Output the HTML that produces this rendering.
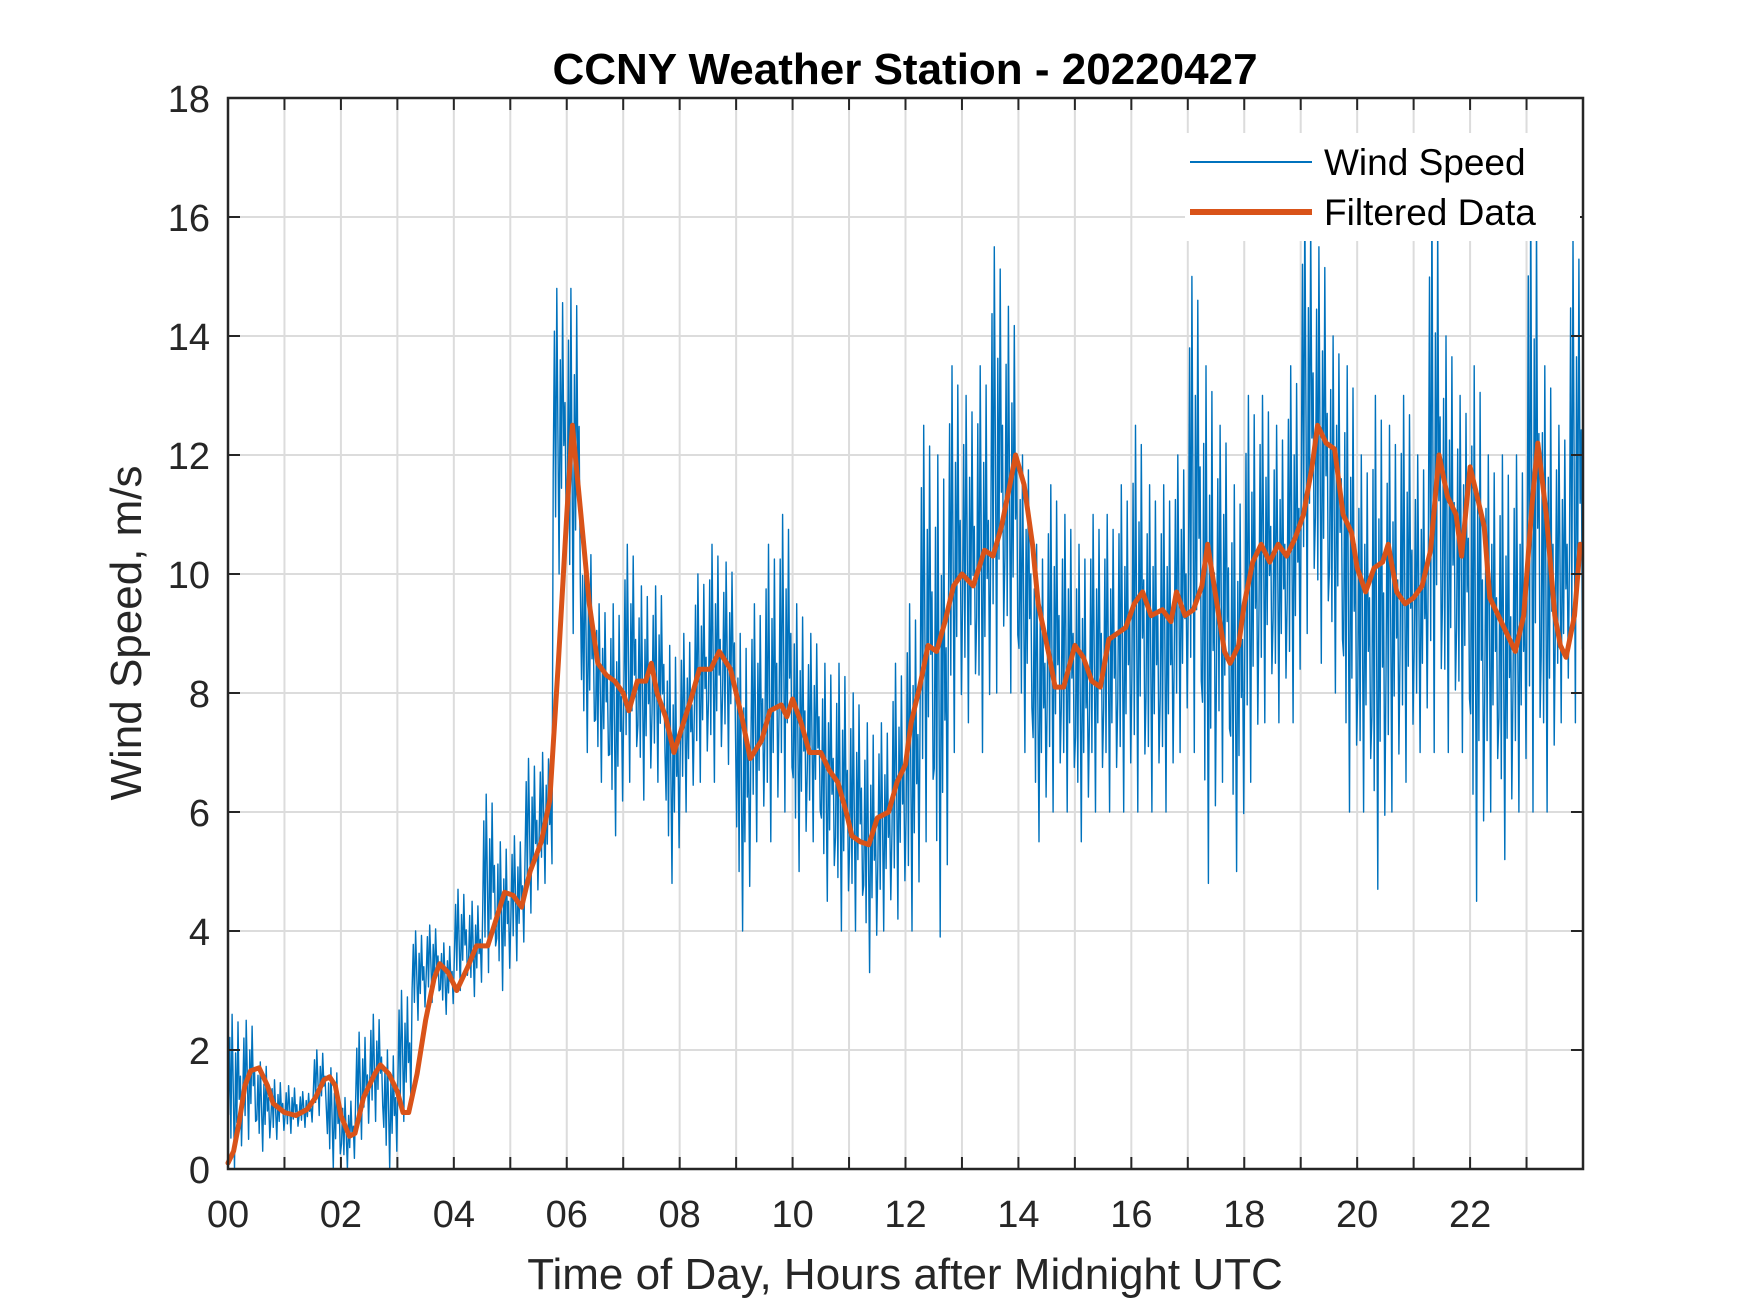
<!DOCTYPE html>
<html><head><meta charset="utf-8"><style>
body{margin:0;background:#fff}
svg{display:block;font-family:"Liberation Sans",Arial,sans-serif}
</style></head><body>
<svg id="chart" width="1750" height="1313" viewBox="0 0 1750 1313" xmlns="http://www.w3.org/2000/svg">
<rect width="1750" height="1313" fill="#fff"/>
<g id="grid"></g>
<g id="series"></g>
<g id="axes"></g>
<text x="905" y="84" text-anchor="middle" font-size="44" font-weight="bold" fill="#000">CCNY Weather Station - 20220427</text>
<text transform="translate(141,633) rotate(-90)" text-anchor="middle" font-size="44" fill="#262626">Wind Speed, m/s</text>
<text x="905" y="1289" text-anchor="middle" font-size="44" fill="#262626">Time of Day, Hours after Midnight UTC</text>
<g id="legend">
<rect x="1185" y="133" width="395" height="108" fill="#fff"/>
<line x1="1190" y1="162" x2="1312" y2="162" stroke="#0072BD" stroke-width="2"/>
<text x="1324" y="175" font-size="37" fill="#000">Wind Speed</text>
<line x1="1190" y1="212" x2="1312" y2="212" stroke="#D95319" stroke-width="6"/>
<text x="1324" y="225" font-size="37" fill="#000">Filtered Data</text>
</g>
</svg>
<script>
const xTickLabels=["00","02","04","06","08","10","12","14","16","18","20","22"];
const yTickLabels=[0,2,4,6,8,10,12,14,16,18];
// wind speed per 0.25h bin: low and high envelope
const windLow=[0,0.5,0.3,0.5,0.6,0.7,0.9,0,0,0.5,0.8,0,0.8,2.5,2.8,2.6,3.0,2.9,3.3,3.0,3.5,4.3,4.8,10,9,7,6.5,5.6,6.5,6.2,6.5,4.8,6.0,6.5,6.5,6.8,4.0,5.5,5.5,6,5,5.5,4.5,4.0,4.0,3.3,4.0,4.2,4.0,5.5,3.9,7,7.5,7,8,8,7,5.5,6,6,5.5,6,6,6,6,6,6,7,7,4.8,6.5,5,6.5,7.5,7.5,7.5,9,8.5,8,6,6,4.7,6,6.5,7,7,7,7,4.5,6,5.2,6,6,6,7.5,7.5];
const windHigh=[2.6,2.5,1.8,1.5,1.4,1.3,2.0,1.7,1.2,2.3,2.6,2.0,3.0,4.0,4.1,3.8,4.7,4.5,6.3,5.5,5.6,6.9,7.0,14.8,14.8,10.5,9.5,9.5,10.5,9.8,9.8,8.8,9.0,10.0,10.5,10.2,9.0,9.5,10.5,11,9.5,9.0,8.5,8.5,8.0,7.5,7.5,8.5,9.5,12.5,12,13.5,13,13.5,15.5,14.5,12,10.5,11.5,11,10.5,11,11,11.5,12.5,11.5,11.5,12,15,13.5,12.5,11.5,13,13,12.5,13.5,16.3,15.5,14,13.5,12,13,12.5,13,12,16.4,14,13,13.5,12,12,12,16.6,13.5,12.5,15.7];
const filtHours=[0,0.1,0.2,0.3,0.4,0.55,0.7,0.8,1.0,1.2,1.4,1.55,1.7,1.8,1.9,2.0,2.15,2.25,2.4,2.6,2.7,2.85,3.0,3.1,3.2,3.35,3.5,3.65,3.75,3.9,4.05,4.25,4.4,4.6,4.75,4.9,5.05,5.2,5.35,5.55,5.7,5.85,6.0,6.1,6.25,6.4,6.55,6.7,6.85,7.0,7.1,7.25,7.4,7.5,7.6,7.75,7.9,8.0,8.2,8.35,8.55,8.7,8.9,9.1,9.25,9.45,9.6,9.8,9.9,10.0,10.15,10.3,10.5,10.65,10.8,10.95,11.05,11.2,11.35,11.5,11.7,11.85,12.0,12.1,12.25,12.4,12.55,12.7,12.85,13.0,13.2,13.4,13.55,13.7,13.85,13.95,14.1,14.25,14.35,14.55,14.65,14.8,15.0,15.15,15.3,15.45,15.6,15.75,15.9,16.05,16.2,16.35,16.55,16.7,16.8,16.95,17.1,17.25,17.35,17.5,17.65,17.75,17.9,18.0,18.15,18.3,18.45,18.6,18.75,18.9,19.05,19.2,19.3,19.45,19.6,19.75,19.9,20.0,20.15,20.3,20.45,20.55,20.7,20.85,21.0,21.15,21.3,21.45,21.6,21.75,21.85,22.0,22.15,22.25,22.35,22.5,22.65,22.8,22.95,23.1,23.2,23.35,23.5,23.6,23.7,23.85,23.95];
const filtValues=[0.1,0.3,0.8,1.4,1.65,1.7,1.4,1.1,0.95,0.9,1.0,1.2,1.5,1.55,1.4,0.9,0.55,0.6,1.2,1.6,1.75,1.6,1.3,0.95,0.95,1.6,2.5,3.2,3.45,3.3,3.0,3.4,3.75,3.75,4.2,4.65,4.6,4.4,5.0,5.5,6.2,8.5,11.0,12.5,11.0,9.5,8.5,8.3,8.2,8.0,7.7,8.2,8.2,8.5,8.0,7.6,7.0,7.3,7.9,8.4,8.4,8.7,8.4,7.6,6.9,7.2,7.7,7.8,7.6,7.9,7.5,7.0,7.0,6.7,6.5,6.0,5.6,5.5,5.45,5.9,6.0,6.5,6.8,7.5,8.1,8.8,8.7,9.2,9.8,10.0,9.8,10.4,10.3,10.8,11.5,12.0,11.5,10.5,9.5,8.6,8.1,8.1,8.8,8.6,8.2,8.1,8.9,9.0,9.1,9.5,9.7,9.3,9.4,9.2,9.7,9.3,9.4,9.8,10.5,9.6,8.7,8.5,8.8,9.5,10.2,10.5,10.2,10.5,10.3,10.6,11.0,11.8,12.5,12.2,12.1,11.0,10.7,10.1,9.7,10.1,10.2,10.5,9.7,9.5,9.6,9.8,10.4,12.0,11.3,11.0,10.3,11.8,11.2,10.8,9.6,9.3,9.0,8.7,9.3,11.2,12.2,11.0,9.3,8.8,8.6,9.3,10.5];
const binHours=0.25;

const X0=228,X1=1583,Y0=1169,Y1=98;
const xs=h=>X0+(h/24)*(X1-X0);
const ys=v=>Y0-(v/18)*(Y0-Y1);
const NS="http://www.w3.org/2000/svg";
function mk(tag,attrs,parent){const e=document.createElementNS(NS,tag);for(const k in attrs)e.setAttribute(k,attrs[k]);parent.appendChild(e);return e;}
const grid=document.getElementById('grid'),axes=document.getElementById('axes'),series=document.getElementById('series');

for(let h=1;h<24;h++){
  const l=mk('line',{x1:xs(h),x2:xs(h),y1:Y1,y2:Y0,stroke:'#dcdcdc','stroke-width':2},grid);
  
  
  mk('line',{x1:xs(h),x2:xs(h),y1:Y0,y2:Y0-12,stroke:'#262626','stroke-width':2},axes);
  mk('line',{x1:xs(h),x2:xs(h),y1:Y1,y2:Y1+12,stroke:'#262626','stroke-width':2},axes);
}
yTickLabels.forEach(v=>{
  if(v>0&&v<18){
    const l=mk('line',{x1:X0,x2:X1,y1:ys(v),y2:ys(v),stroke:'#dcdcdc','stroke-width':2},grid);
    
    
  }
  mk('line',{x1:X0,x2:X0+12,y1:ys(v),y2:ys(v),stroke:'#262626','stroke-width':2},axes);
  mk('line',{x1:X1,x2:X1-12,y1:ys(v),y2:ys(v),stroke:'#262626','stroke-width':2},axes);
  const t=mk('text',{x:X0-18,y:ys(v)+14,'text-anchor':'end','font-size':38,fill:'#262626'},axes);
  t.textContent=v;
  
  
});
xTickLabels.forEach((lab,i)=>{
  const t=mk('text',{x:xs(i*2),y:1227,'text-anchor':'middle','font-size':38,fill:'#262626'},axes);
  t.textContent=lab;
  
  
});
const frame=mk('rect',{x:X0,y:Y1,width:X1-X0,height:Y0-Y1,fill:'none',stroke:'#262626','stroke-width':2.5},axes);



// wind speed raw trace
const pat=[0.35,0.85,0.2,1,0.5,0.0,0.75,0.3,0.95,0.45,0.6,0.15];
let pts=[];
windLow.forEach((lo,i)=>{
  const hi=windHigh[i];
  for(let k=0;k<pat.length;k++){
    const h=i*binHours+(k+0.5)*binHours/pat.length;
    pts.push(xs(h).toFixed(1)+','+ys(lo+(hi-lo)*pat[k]).toFixed(1));
  }
});
const raw=mk('polyline',{points:pts.join(' '),fill:'none',stroke:'#0072BD','stroke-width':1.4,'stroke-linejoin':'round'},series);



const fp=filtHours.map((h,i)=>xs(h).toFixed(1)+','+ys(filtValues[i]).toFixed(1)).join(' ');
const fl=mk('polyline',{points:fp,fill:'none',stroke:'#D95319','stroke-width':5,'stroke-linejoin':'round','stroke-linecap':'round'},series);


</script>
</body></html>
